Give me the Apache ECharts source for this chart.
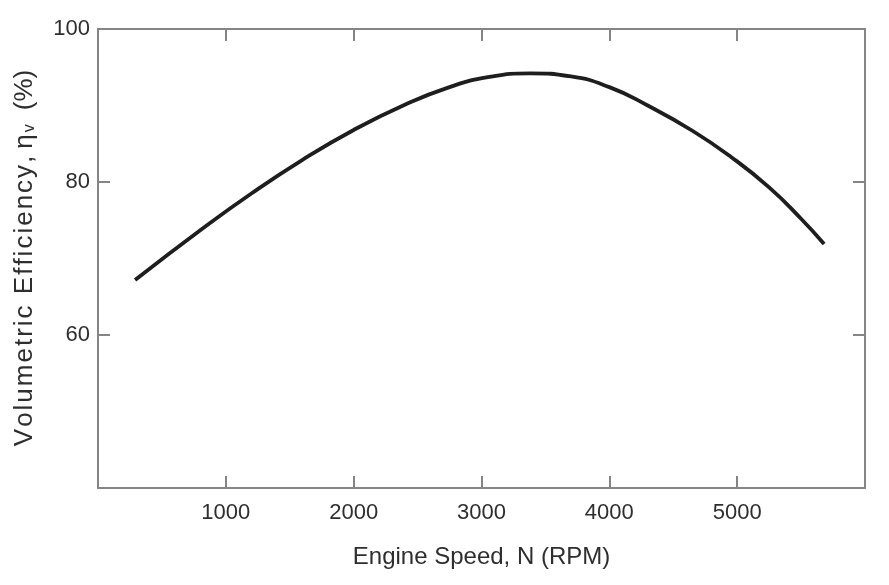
<!DOCTYPE html>
<html>
<head>
<meta charset="utf-8">
<script src="https://cdn.jsdelivr.net/npm/echarts@6/dist/echarts.min.js"></script>
<style>
html, body { margin: 0; padding: 0; background: #fff; }
#chart { width: 889px; height: 585px; }
</style>
</head>
<body>
<div id="chart"></div>
<script>
// engine speed (RPM) and volumetric efficiency (%)
var speed = [290, 800, 1200, 1600, 2000, 2400, 2750, 3050, 3380, 3700, 4000, 4300, 4650, 4950, 5250, 5500, 5680];
var efficiency = [67.2, 73.7, 78.5, 82.9, 86.8, 90.1, 92.4, 93.7, 94.2, 93.8, 92.4, 90.0, 86.7, 83.3, 79.3, 75.2, 71.9];
var xTicks = [1000, 2000, 3000, 4000, 5000];
var yTicks = [60, 80, 100];

var font = '"Liberation Sans", Arial, Helvetica, sans-serif';
var frameColor = '#858585';
var textColor = '#2e2e2e';

var points = [];
for (var i = 0; i < speed.length; i++) {
    points.push([speed[i], efficiency[i]]);
}

// y title is loosely spaced in the original, so every letter gets a bit of padding
var yTitle = 'Volumetric Efficiency,';
var yName = '';
for (var k = 0; k < yTitle.length; k++) {
    yName += '{c|' + yTitle.charAt(k) + '}';
}
yName += '{eta|η}{sub|v}{pct|(%)}';

var myChart = echarts.init(document.getElementById('chart'));

// every side of the box is an axis, ticks drawn inward
function axisBase() {
    return {
        type: 'value',
        axisLine: { show: true, onZero: false, lineStyle: { color: frameColor, width: 2 } },
        axisTick: { show: true, inside: true, length: 12, lineStyle: { color: frameColor, width: 2 } },
        splitLine: { show: false }
    };
}

var xBottom = axisBase();
xBottom.position = 'bottom';
xBottom.min = 0; xBottom.max = 6000; xBottom.interval = 1000;
xBottom.name = 'Engine Speed, N (RPM)';
xBottom.nameLocation = 'middle';
xBottom.nameGap = 57;
xBottom.nameTextStyle = { fontFamily: font, fontSize: 24, color: textColor };
xBottom.axisLabel = {
    margin: 14, fontFamily: font, fontSize: 22, color: textColor,
    formatter: function (v) { return xTicks.indexOf(v) >= 0 ? String(v) : ''; }
};

var xTop = axisBase();
xTop.position = 'top';
xTop.min = 0; xTop.max = 6000; xTop.interval = 1000;
xTop.axisLabel = { show: false };

var yLeft = axisBase();
yLeft.position = 'left';
yLeft.min = 40; yLeft.max = 100; yLeft.interval = 20;
yLeft.name = yName;
yLeft.nameLocation = 'middle';
yLeft.nameGap = 60;
yLeft.nameTextStyle = {
    fontFamily: font, fontSize: 26, color: textColor,
    rich: {
        c: { fontFamily: font, fontSize: 26, color: textColor, padding: [0, 1, 0, 1] },
        eta: { fontFamily: font, fontSize: 26, color: textColor, padding: [0, 0, 0, 6] },
        sub: { fontFamily: font, fontSize: 16, color: textColor, padding: [10, 0, 0, 2] },
        pct: { fontFamily: font, fontSize: 26, color: textColor, padding: [0, 0, 0, 14] }
    }
};
yLeft.axisLabel = {
    margin: 8, fontFamily: font, fontSize: 22, color: textColor,
    formatter: function (v) { return yTicks.indexOf(v) >= 0 ? String(v) : ''; }
};

var yRight = axisBase();
yRight.position = 'right';
yRight.min = 40; yRight.max = 100; yRight.interval = 20;
yRight.axisLabel = { show: false };

var option = {
    backgroundColor: '#ffffff',
    animation: false,
    grid: { left: 98, right: 24, top: 29, bottom: 97, containLabel: false },
    xAxis: [xBottom, xTop],
    yAxis: [yLeft, yRight],
    series: [
        {
            type: 'line',
            xAxisIndex: 0,
            yAxisIndex: 0,
            data: points,
            smooth: true,
            showSymbol: false,
            lineStyle: { color: '#1e1e1e', width: 3.8 }
        }
    ]
};

myChart.setOption(option);
</script>
</body>
</html>
